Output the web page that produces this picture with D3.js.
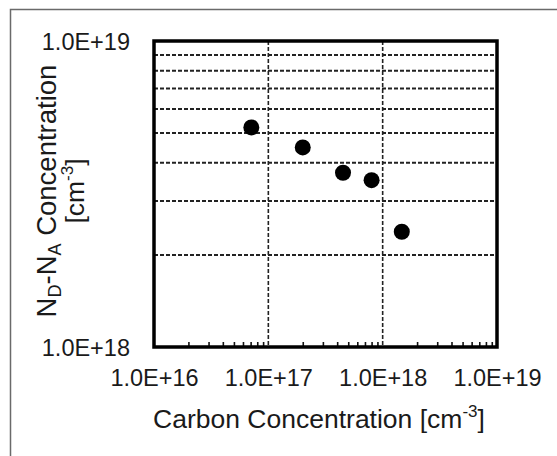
<!DOCTYPE html>
<html>
<head>
<meta charset="utf-8">
<script src="https://cdn.jsdelivr.net/npm/d3@7/dist/d3.min.js"></script>
<style>
  html, body { margin: 0; padding: 0; background: #ffffff; }
  svg { display: block; font-family: "Liberation Sans", Arial, sans-serif; }
</style>
</head>
<body>
<svg id="chart" width="557" height="456"></svg>
<script>
// ---- data ----
const carbon = [7.1e16, 2.0e17, 4.5e17, 8.0e17, 1.47e18];      // Carbon concentration [cm^-3]
const ndna   = [5.22e18, 4.49e18, 3.71e18, 3.51e18, 2.38e18]; // ND-NA concentration [cm^-3]
const xTicks = [1e16, 1e17, 1e18, 1e19];
const yTicks = [1e18, 1e19];
const xGrid  = [1e17, 1e18];
const yGrid  = [2e18, 3e18, 4e18, 5e18, 6e18, 7e18, 8e18, 9e18];
const xMinor = [];
[1e16, 1e17, 1e18].forEach(d => { for (let k = 2; k <= 9; k++) xMinor.push(d * k); });

// ---- layout ----
const svg = d3.select("#chart");
const L = 154, R = 497, T = 41, B = 347;
const x = d3.scaleLog().domain([1e16, 1e19]).range([L, R]);
const y = d3.scaleLog().domain([1e18, 1e19]).range([B, T]);
const fmt = v => "1.0E+" + Math.round(Math.log10(v));
const FONT = "'Liberation Sans', Arial, sans-serif";

// outer frame (left and top edge)
svg.append("path").attr("d", "M10.5,456 L10.5,9.5 L557,9.5")
  .attr("fill", "none").attr("stroke", "#6a6a6a").attr("stroke-width", 1.5);

// gridlines
svg.append("g").selectAll("line").data(yGrid).join("line")
  .attr("x1", L).attr("x2", R).attr("y1", d => y(d)).attr("y2", d => y(d))
  .attr("stroke", "#222").attr("stroke-width", 2).attr("stroke-dasharray", "4,2");
svg.append("g").selectAll("line").data(xGrid).join("line")
  .attr("y1", T).attr("y2", B).attr("x1", d => x(d)).attr("x2", d => x(d))
  .attr("stroke", "#222").attr("stroke-width", 1.6).attr("stroke-dasharray", "4,2");

// minor ticks on bottom axis (inward)
const minorAxis = svg.append("g").attr("transform", `translate(0,${B})`)
  .call(d3.axisBottom(x).tickValues(xMinor).tickSize(-5).tickFormat(""));
minorAxis.select(".domain").remove();
minorAxis.selectAll("line").attr("stroke", "#111").attr("stroke-width", 1.6);

// x axis labels
const xAxis = svg.append("g").attr("transform", `translate(0,${B})`)
  .call(d3.axisBottom(x).tickValues(xTicks).tickSize(0).tickFormat(fmt));
xAxis.select(".domain").remove();
xAxis.selectAll("text").attr("y", 39).attr("dy", null)
  .attr("font-size", 23.5).attr("fill", "#1a1a1a").attr("font-family", FONT);

// y axis labels
const yAxis = svg.append("g").attr("transform", `translate(${L},0)`)
  .call(d3.axisLeft(y).tickValues(yTicks).tickSize(0).tickFormat(fmt));
yAxis.select(".domain").remove();
yAxis.selectAll("text").attr("x", -24).attr("dy", "0.36em")
  .attr("font-size", 23.5).attr("fill", "#1a1a1a").attr("font-family", FONT);

// plot border
svg.append("rect").attr("x", L).attr("y", T).attr("width", R - L).attr("height", B - T)
  .attr("fill", "none").attr("stroke", "#000").attr("stroke-width", 3.5);

// points
svg.append("g").selectAll("circle").data(carbon).join("circle")
  .attr("cx", d => x(d)).attr("cy", (d, i) => y(ndna[i])).attr("r", 8)
  .attr("fill", "#000");

// x title
const xt = svg.append("text").attr("x", 319).attr("y", 428)
  .attr("text-anchor", "middle").attr("font-size", 26.5).attr("fill", "#1a1a1a");
xt.append("tspan").text("Carbon Concentration [cm");
xt.append("tspan").attr("font-size", 17).attr("dy", -11).text("-3");
xt.append("tspan").attr("dy", 11).text("]");

// y title (two lines, rotated)
const cy = 191;
const yt1 = svg.append("text").attr("transform", `translate(56,${cy}) rotate(-90)`)
  .attr("text-anchor", "middle").attr("font-size", 27.5).attr("fill", "#1a1a1a");
yt1.append("tspan").text("N");
yt1.append("tspan").attr("font-size", 18).attr("dy", 5).text("D");
yt1.append("tspan").attr("dy", -5).text("-N");
yt1.append("tspan").attr("font-size", 18).attr("dy", 5).text("A");
yt1.append("tspan").attr("dy", -5).text(" Concentration");

const yt2 = svg.append("text").attr("transform", `translate(84,${cy}) rotate(-90)`)
  .attr("text-anchor", "middle").attr("font-size", 26.5).attr("fill", "#1a1a1a");
yt2.append("tspan").text("[cm");
yt2.append("tspan").attr("font-size", 17).attr("dy", -11).text("-3");
yt2.append("tspan").attr("dy", 11).text("]");
</script>
</body>
</html>
